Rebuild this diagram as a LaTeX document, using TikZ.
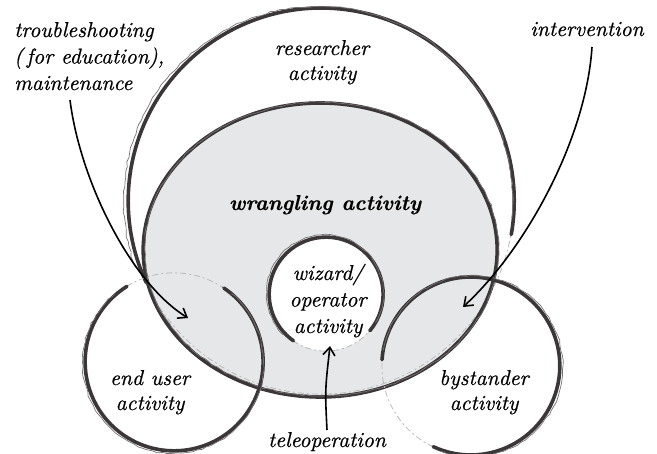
\documentclass[tikz,border=0pt]{standalone}
\usepackage{fontspec}
\newfontfamily\lblfont{lmroman10-italic.otf}[FakeBold=0.6]
\newfontfamily\lblboldfont{lmroman10-bolditalic.otf}[FakeBold=0.4]
\usetikzlibrary{arrows.meta,shapes.geometric,decorations.pathmorphing}
\definecolor{ink}{HTML}{3B3637}
\definecolor{wrangle}{HTML}{E6E7E8}
\tikzset{
  solidarc/.style={draw=ink, line width=3.6pt, line cap=round},
  thinarc/.style={draw=ink!70, line width=0.7pt, decorate, decoration={random steps, segment length=5pt, amplitude=0.8pt}},
  faintarc/.style={draw=ink!35, line width=0.8pt, dash pattern=on 6pt off 3pt on 2pt off 3pt},
  lbl/.style={font=\lblfont\fontsize{21.5}{25}\selectfont, align=center, inner sep=0pt},
  arrowline/.style={draw=black, line width=1.6pt, -{Straight Barb[length=8pt,width=12pt,line width=1.6pt]}},
}
\begin{document}
\begin{tikzpicture}[x=1pt,y=1pt]
\useasboundingbox (0,0) rectangle (657,-454);
% region nodes (outlines drawn separately as sketchy arcs)
\node[circle, minimum size=386pt, inner sep=0pt] (researcher) at (321,-201) {};
\node[ellipse, minimum width=354pt, minimum height=294pt, inner sep=0pt, fill=wrangle] (wrangling) at (320,-250) {};
\node[circle, minimum size=178pt, inner sep=0pt] (enduser) at (174,-362) {};
\node[circle, minimum size=178pt, inner sep=0pt] (bystander) at (471,-366) {};
% outer circle: faint lower part
\draw[faintarc] (researcher.205) arc[start angle=205, end angle=350, radius=193pt];
% wrangling ellipse outline
\draw[solidarc] (wrangling.0) arc[start angle=0, end angle=360, x radius=177pt, y radius=147pt];
\draw[thinarc] ([shift={(1.5pt,1pt)}]wrangling.0) arc[start angle=0, end angle=360, x radius=177pt, y radius=147pt];
% researcher circle solid part
\draw[solidarc] (researcher.-10) arc[start angle=-10, end angle=205, radius=193pt];
\draw[thinarc] ([shift={(-1.5pt,0pt)}]researcher.-5) arc[start angle=-5, end angle=200, radius=194.5pt];
% end user circle
\draw[faintarc] (enduser.122) arc[start angle=122, end angle=56, radius=89pt];
\draw[solidarc] (enduser.56) arc[start angle=56, end angle=-238, radius=89pt];
\draw[thinarc] (enduser.50) arc[start angle=50, end angle=-230, radius=90.5pt];
% bystander circle
\draw[faintarc] (bystander.245) arc[start angle=245, end angle=176, radius=89pt];
\draw[solidarc] (bystander.176) arc[start angle=176, end angle=-115, radius=89pt];
\draw[thinarc] (bystander.170) arc[start angle=170, end angle=-110, radius=90.5pt];
% wizard circle
\node[circle, minimum size=114pt, inner sep=0pt, fill=white] (wizard) at (326,-294) {};
\draw[faintarc] (wizard.235) arc[start angle=235, end angle=320, radius=57pt];
\draw[solidarc] (wizard.-40) arc[start angle=-40, end angle=235, radius=57pt];
\draw[thinarc] (wizard.-30) arc[start angle=-30, end angle=225, radius=58.5pt];
% labels (anchor=base refers to the baseline of the last line)
\node[lbl, anchor=base] (researcherlbl) at (322,-80) {researcher\\activity};
\node[lbl, font=\lblboldfont\fontsize{21.5}{25}\selectfont, anchor=base] (wranglinglbl) at (325,-210) {wrangling activity};
\node[lbl, font=\lblfont\fontsize{21.5}{26.5}\selectfont, anchor=base] (wizardlbl) at (328,-333) {wizard/\\operator\\activity};
\node[lbl, anchor=base] (enduserlbl) at (150,-410) {end user\\activity};
\node[lbl, anchor=base] (bystanderlbl) at (484,-410) {bystander\\activity};
\node[lbl, font=\lblfont\fontsize{21.5}{26.5}\selectfont, align=left, anchor=base west] (trouble) at (14,-90) {troubleshooting\\(\,for education),\\maintenance};
\node[lbl, anchor=base] (interv) at (587,-36) {intervention};
\node[lbl, anchor=base] (teleop) at (327,-447) {teleoperation};
% arrow tips
\coordinate (tipA) at (188,-318);
\coordinate (tipB) at (463,-307);
\coordinate (tipC) at (330,-346);
\draw[arrowline] ([xshift=56pt,yshift=-10pt]trouble.base west) .. controls (80,-180) and (130,-282) .. (tipA);
\draw[arrowline] ([xshift=5pt,yshift=-11pt]interv.base) .. controls (586,-140) and (525,-250) .. (tipB);
\draw[arrowline] ([yshift=17pt]teleop.base) .. controls (325,-390) .. (tipC);
\end{tikzpicture}
\end{document}
